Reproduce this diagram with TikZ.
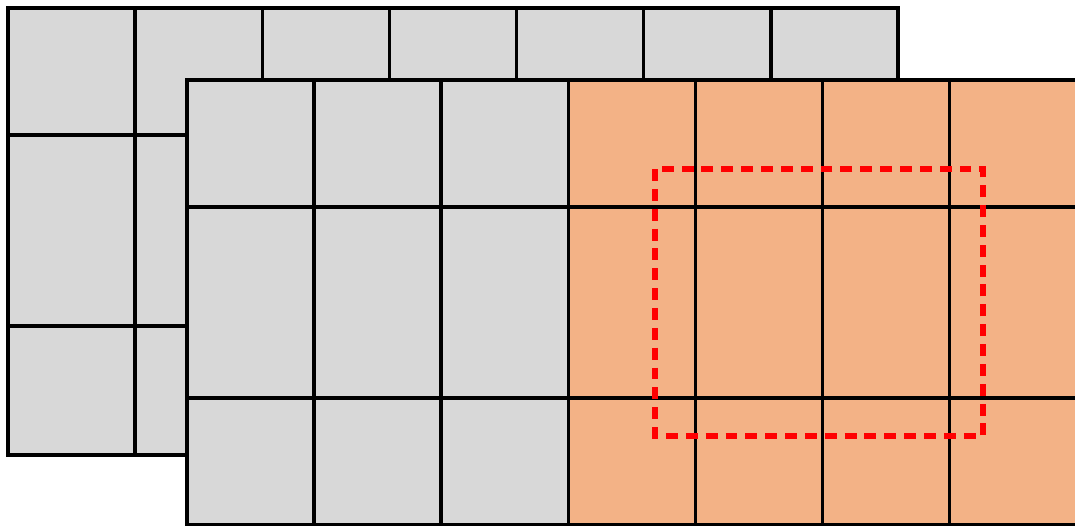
\documentclass[tikz,border=0pt]{standalone}
\usetikzlibrary{positioning}
\definecolor{cellgray}{HTML}{D8D8D8}
\definecolor{cellorange}{HTML}{F3B286}
\def\cellW{127.14}
\tikzset{
    gridline/.style={line width=2pt, line cap=rect},
    window/.style={red, line width=3.4pt, dash pattern=on 6.8pt off 4.5pt}
}

\begin{document}
\begin{tikzpicture}[x=0.02cm, y=-0.02cm]
\useasboundingbox (0,0) rectangle (1075,525);
\clip (0,0) rectangle (1075,525);
% back feature map
\fill[cellgray] (8,8) rectangle (898,455);
\foreach \i in {0,...,7}
    \draw[gridline] ({8+\cellW*\i},8) -- ({8+\cellW*\i},455);
\foreach \y in {8,135,326,455}
    \draw[gridline] (8,\y) -- (898,\y);
% front feature map
\fill[cellgray] (187,80) rectangle (569,530);
\fill[cellorange] (569,80) rectangle (1080,530);
\foreach \i in {0,...,7}
    \draw[gridline] ({187+127.1*\i},80) -- ({187+127.1*\i},530);
\foreach \y in {80,207,398,525}
    \draw[gridline] (187,\y) -- (1080,\y);
% sliding window
\draw[window] (655,169) rectangle (983,436);
\end{tikzpicture}
\end{document}
